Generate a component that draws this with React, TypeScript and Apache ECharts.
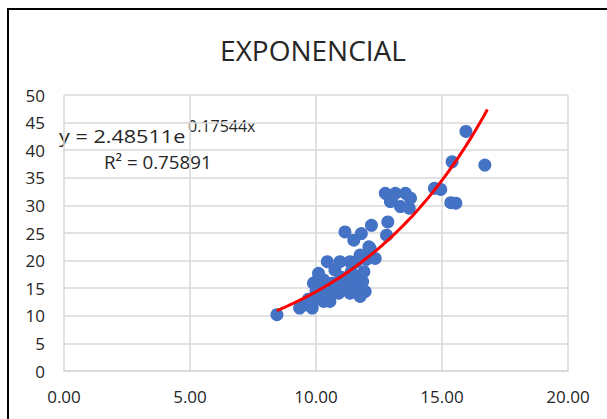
import React, { useEffect, useRef } from "react";
import * as echarts from "echarts";

const TITLE = "EXPONENCIAL";
const xTickLabels = ["0.00", "5.00", "10.00", "15.00", "20.00"];
const xValues = [
  8.45, 9.35, 9.6, 9.85, 10.1, 10.3, 10.55, 9.9, 10.1, 10.2, 10.45, 10.95, 11.35, 11.75, 12.15, 12.35,
  11.5, 10.65, 11.15, 11.6, 11.85, 11.95, 11.75, 11.35, 10.9, 11.4, 10.75, 12.75, 13.15, 13.55, 13.75,
  12.95, 13.35, 13.7, 14.7, 14.95, 12.85, 12.2, 11.8, 11.15, 12.8, 12.1, 15.95, 15.4, 16.7, 15.35,
  15.55, 10.3, 10.0, 10.85, 11.2, 11.5, 11.0, 10.5, 11.6, 11.3, 10.0, 9.7, 11.9, 12.0, 11.6, 10.35, 13.0,
];
const yValues = [
  10.2, 11.4, 12.0, 11.4, 13.2, 12.6, 12.6, 15.9, 17.7, 14.7, 19.8, 19.8, 19.8, 21.0, 22.2, 20.4,
  23.7, 15.9, 16.5, 17.1, 16.2, 14.4, 13.5, 14.1, 14.1, 18.0, 18.3, 32.2, 32.2, 32.2, 31.3,
  30.7, 29.8, 29.5, 33.1, 32.9, 27.0, 26.4, 24.9, 25.2, 24.6, 22.5, 43.4, 37.9, 37.3, 30.5,
  30.4, 16.5, 16.2, 15.3, 15.0, 15.6, 17.0, 14.0, 15.0, 16.8, 14.5, 13.0, 18.0, 20.2, 19.8, 13.5, 31.2,
];
// Trend line from the displayed equation y = a * e^(b x)
const trendCoef = [2.48511, 0.17544];
const trendRange = [8.45, 16.8];
const equationText = ["y = 2.48511e", "0.17544x", "R² = 0.75891"];

export default function App() {
  const ref = useRef<HTMLDivElement>(null);
  useEffect(() => {
    if (!ref.current) return;
    const chart = echarts.init(ref.current, null, { renderer: "svg" });
    const points = xValues.map((x, i) => [x, yValues[i]]);
    const trend: number[][] = [];
    const steps = 60;
    for (let i = 0; i <= steps; i++) {
      const x = trendRange[0] + ((trendRange[1] - trendRange[0]) * i) / steps;
      trend.push([x, trendCoef[0] * Math.exp(trendCoef[1] * x)]);
    }
    const font = "Open Sans";
    const textColor = "#262626";
    chart.setOption({
      animation: false,
      backgroundColor: "#ffffff",
      grid: { left: 64, right: 39, top: 95, bottom: 48 },
      xAxis: {
        type: "value",
        min: 0,
        max: 20,
        interval: 5,
        axisLine: { show: true, lineStyle: { color: "#d9d9d9", width: 1.5 } },
        axisTick: { show: false },
        splitLine: { show: true, lineStyle: { color: "#d9d9d9", width: 1.5 } },
        axisLabel: {
          margin: 17,
          fontFamily: font,
          fontSize: 17,
          color: textColor,
          formatter: (v: number) => xTickLabels[Math.round(v / 5)] ?? v.toFixed(2),
        },
      },
      yAxis: {
        type: "value",
        min: 0,
        max: 50,
        interval: 5,
        axisLine: { show: false },
        axisTick: { show: false },
        splitLine: { show: true, lineStyle: { color: "#d9d9d9", width: 1.5 } },
        axisLabel: { margin: 19, fontFamily: font, fontSize: 17, color: textColor },
      },
      series: [
        {
          type: "scatter",
          data: points,
          symbolSize: 13,
          itemStyle: { color: "#4472C4", opacity: 1 },
          z: 2,
        },
        {
          type: "line",
          data: trend,
          showSymbol: false,
          smooth: true,
          lineStyle: { color: "#ff0000", width: 3 },
          z: 3,
        },
      ],
      graphic: [
        {
          type: "rect",
          shape: { x: 8, y: 9, width: 640, height: 440 },
          style: { fill: "none", stroke: "#000000", lineWidth: 2 },
          silent: true,
        },
        {
          type: "text",
          x: 313,
          y: 50,
          style: {
            text: TITLE,
            fontFamily: font,
            fontSize: 28,
            fill: textColor,
            align: "center",
            verticalAlign: "middle",
          },
        },
        {
          type: "text",
          x: 59,
          y: 136,
          scaleX: 1.2,
          style: {
            text: equationText[0],
            fontFamily: font,
            fontSize: 18,
            fill: textColor,
            verticalAlign: "middle",
          },
        },
        {
          type: "text",
          x: 188,
          y: 126,
          style: {
            text: equationText[1],
            fontFamily: font,
            fontSize: 16,
            fill: textColor,
            verticalAlign: "middle",
          },
        },
        {
          type: "text",
          x: 104,
          y: 162,
          scaleX: 1.04,
          style: {
            text: equationText[2],
            fontFamily: font,
            fontSize: 18,
            fill: textColor,
            verticalAlign: "middle",
          },
        },
      ],
    });
    return () => chart.dispose();
  }, []);
  return (
    <div
      ref={ref}
      style={{ position: "fixed", left: 0, top: 0, width: 607, height: 419 }}
    />
  );
}
